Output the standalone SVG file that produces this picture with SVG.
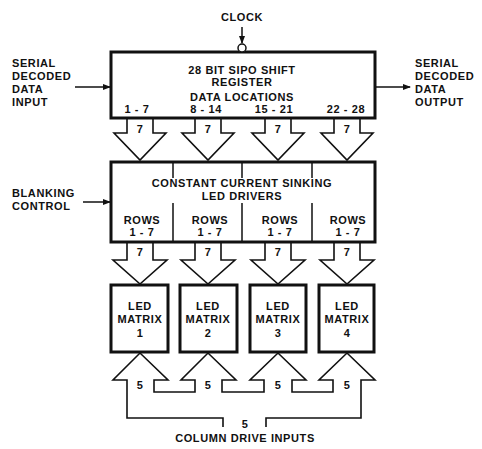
<svg xmlns="http://www.w3.org/2000/svg" width="482" height="449" viewBox="0 0 482 449">
<style>
text{font-family:"Liberation Sans",Arial,sans-serif;font-weight:bold;font-size:11px;letter-spacing:0.6px;fill:#111}
.c{text-anchor:middle}
.box{fill:#fff;stroke:#111;stroke-width:3}
.ln{fill:none;stroke:#111;stroke-width:1.5}
.ar{fill:#fff;stroke:#111;stroke-width:1.6;stroke-linejoin:miter}
</style>
<defs>
<marker id="ah" markerWidth="8" markerHeight="6" refX="7" refY="3" orient="auto" markerUnits="userSpaceOnUse">
<path d="M0,0 L8,3 L0,6 Z" fill="#111"/>
</marker>
</defs>
<rect width="482" height="449" fill="#fff"/>
<g id="connectors">
<line class="ln" x1="242" y1="27" x2="242" y2="43" marker-end="url(#ah)"/>
<line class="ln" x1="75" y1="87" x2="110" y2="87" marker-end="url(#ah)"/>
<line class="ln" x1="376" y1="87" x2="410" y2="87" marker-end="url(#ah)"/>
<line class="ln" x1="83" y1="202" x2="110" y2="202" marker-end="url(#ah)"/>
<path class="ar" d="M127,119 V133 H114 L140,160 L166,133 H153 V119"/>
<path class="ar" d="M195,119 V133 H182 L208,160 L234,133 H221 V119"/>
<path class="ar" d="M265,119 V133 H252 L278,160 L304,133 H291 V119"/>
<path class="ar" d="M334,119 V133 H321 L347,160 L373,133 H360 V119"/>
<path class="ar" d="M127,243 V260 H113 L140,284 L167,260 H153 V243"/>
<path class="ar" d="M195,243 V260 H181 L208,284 L235,260 H221 V243"/>
<path class="ar" d="M265,243 V260 H251 L278,284 L305,260 H291 V243"/>
<path class="ar" d="M334,243 V260 H320 L347,284 L374,260 H360 V243"/>
<path class="ar" d="M223,427 V418 H127 V380 H113 L140,353 L168,380 H154 V392 H195 V380 H181 L208,353 L236,380 H222 V392 H264 V380 H250 L278,353 L306,380 H292 V392 H333 V380 H319 L347,353 L375,380 H361 V418 H266 V427"/>
<text class="c" x="140" y="133">7</text>
<text class="c" x="208" y="133">7</text>
<text class="c" x="278" y="133">7</text>
<text class="c" x="347" y="133">7</text>
<text class="c" x="140" y="256">7</text>
<text class="c" x="208" y="256">7</text>
<text class="c" x="278" y="256">7</text>
<text class="c" x="347" y="256">7</text>
<text class="c" x="140" y="389">5</text>
<text class="c" x="208" y="389">5</text>
<text class="c" x="278" y="389">5</text>
<text class="c" x="347" y="389">5</text>
<text class="c" x="245" y="428">5</text>
</g>
<g id="clock">
<text class="c" x="242" y="21">CLOCK</text>
</g>
<g id="serial-input">
<text x="12" y="67">SERIAL</text>
<text x="12" y="80">DECODED</text>
<text x="12" y="93">DATA</text>
<text x="12" y="106">INPUT</text>
</g>
<g id="serial-output">
<text x="415" y="67">SERIAL</text>
<text x="415" y="80">DECODED</text>
<text x="415" y="93">DATA</text>
<text x="415" y="106">OUTPUT</text>
</g>
<g id="blanking">
<text x="12" y="197">BLANKING</text>
<text x="12" y="210">CONTROL</text>
</g>
<g id="shift-register">
<rect class="box" x="111" y="52" width="264" height="66"/>
<circle cx="242" cy="48" r="4" fill="#fff" stroke="#111" stroke-width="1.5"/>
<text class="c" x="242" y="74">28 BIT SIPO SHIFT</text>
<text class="c" x="242" y="86">REGISTER</text>
<text class="c" x="242" y="101">DATA LOCATIONS</text>
<text class="c" x="137" y="113">1 - 7</text>
<text class="c" x="206" y="113">8 - 14</text>
<text class="c" x="274" y="113">15 - 21</text>
<text class="c" x="346" y="113">22 - 28</text>
</g>
<g id="led-drivers">
<rect class="box" x="111" y="162" width="264" height="80"/>
<path class="ln" d="M173,163 V178 M173,203 V241 M242,163 V178 M242,203 V241 M312,163 V178 M312,203 V241"/>
<text class="c" x="242" y="187">CONSTANT CURRENT SINKING</text>
<text class="c" x="242" y="200">LED DRIVERS</text>
<text class="c" x="142" y="224">ROWS</text>
<text class="c" x="142" y="236">1 - 7</text>
<text class="c" x="210" y="224">ROWS</text>
<text class="c" x="210" y="236">1 - 7</text>
<text class="c" x="280" y="224">ROWS</text>
<text class="c" x="280" y="236">1 - 7</text>
<text class="c" x="348" y="224">ROWS</text>
<text class="c" x="348" y="236">1 - 7</text>
</g>
<g id="matrix1">
<rect class="box" x="111" y="285" width="57" height="67"/>
<text class="c" x="140" y="310">LED</text>
<text class="c" x="140" y="323">MATRIX</text>
<text class="c" x="140" y="337">1</text>
</g>
<g id="matrix2">
<rect class="box" x="180" y="285" width="57" height="67"/>
<text class="c" x="208" y="310">LED</text>
<text class="c" x="208" y="323">MATRIX</text>
<text class="c" x="208" y="337">2</text>
</g>
<g id="matrix3">
<rect class="box" x="250" y="285" width="56" height="67"/>
<text class="c" x="278" y="310">LED</text>
<text class="c" x="278" y="323">MATRIX</text>
<text class="c" x="278" y="337">3</text>
</g>
<g id="matrix4">
<rect class="box" x="319" y="285" width="55" height="67"/>
<text class="c" x="347" y="310">LED</text>
<text class="c" x="347" y="323">MATRIX</text>
<text class="c" x="347" y="337">4</text>
</g>
<g id="column-drive">
<text class="c" x="245" y="442">COLUMN DRIVE INPUTS</text>
</g>
</svg>
